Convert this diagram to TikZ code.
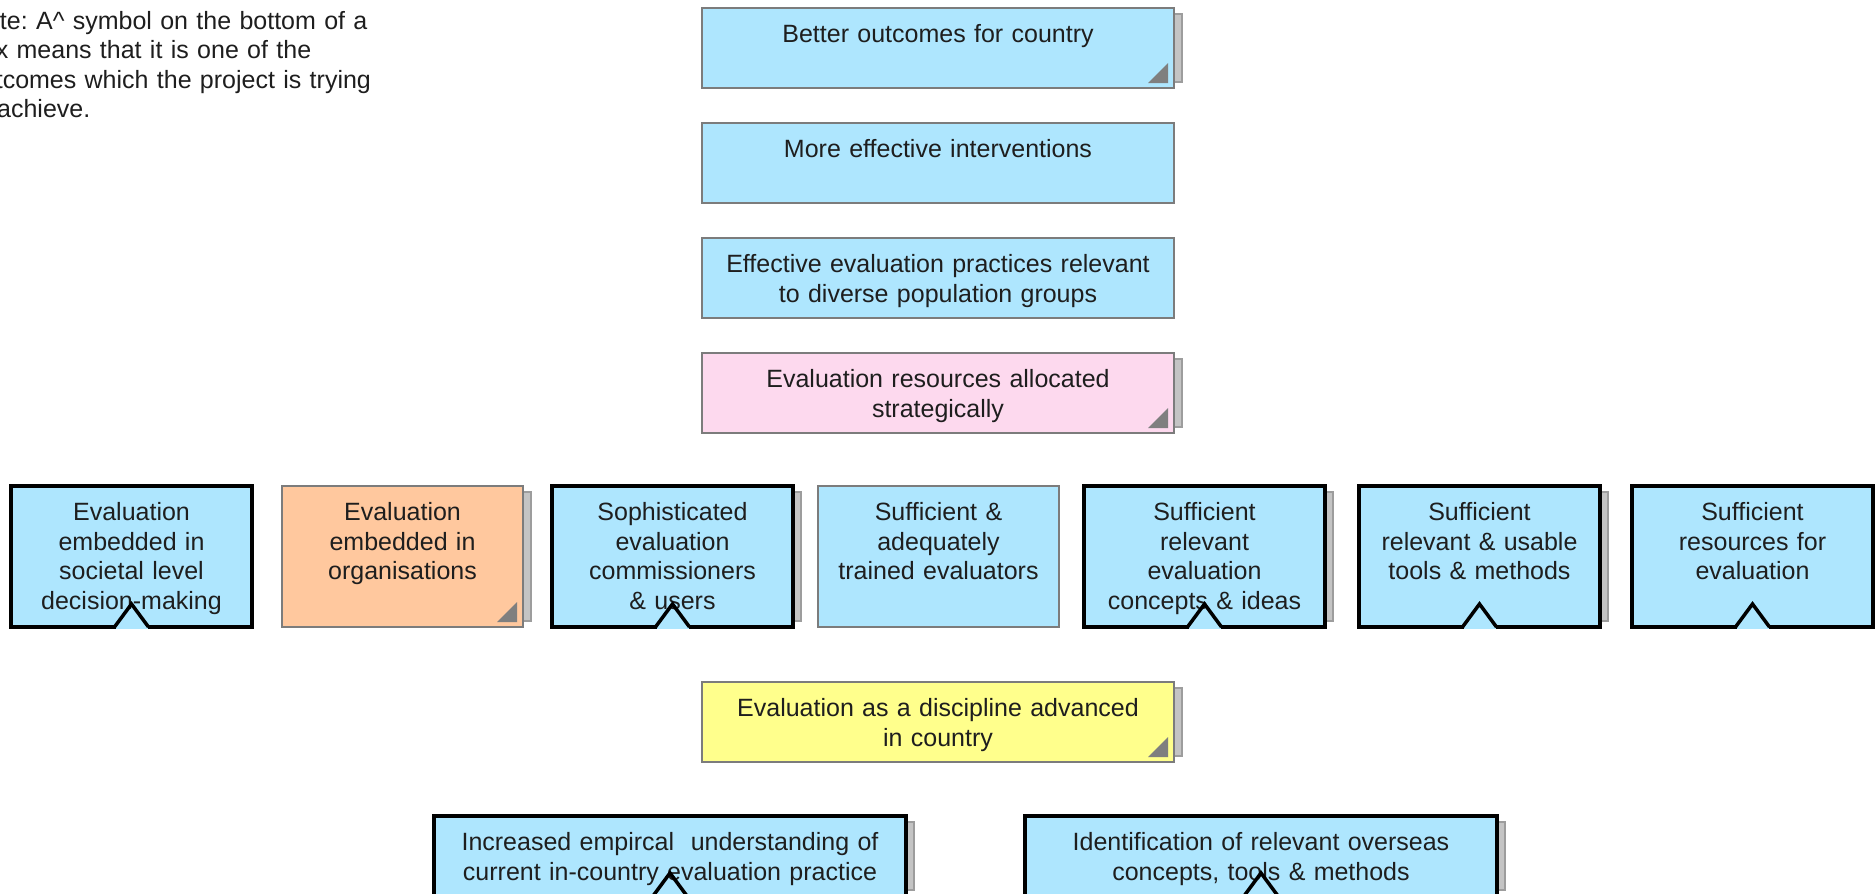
\documentclass[tikz,border=0pt]{standalone}
\usepackage{fontspec}
\setmainfont{Liberation Sans}
\usepackage{xcolor}
\usepackage{tikz}
\usetikzlibrary{calc,positioning,backgrounds}

\definecolor{dvBlue}{HTML}{AEE6FE}
\definecolor{dvPink}{HTML}{FDD9EE}
\definecolor{dvOrange}{HTML}{FFC89E}
\definecolor{dvYellow}{HTML}{FFFF8C}
\definecolor{dvEdge}{HTML}{7C7C7C}
\definecolor{dvShadow}{HTML}{C4C4C4}
\definecolor{dvCorner}{HTML}{7F7F7F}
\definecolor{dvText}{HTML}{1E1E1E}

\begin{document}
\begin{tikzpicture}[x=0.5pt, y=0.5pt, node distance=17.5pt]
  % one unit = one pixel of the 1876x894 layout, y goes down as negative
  \tikzset{
    outcomeBox/.style={draw=dvEdge, line width=1pt, fill=dvBlue, outer sep=0pt, inner xsep=4pt, inner ysep=0pt, text width=228pt, align=center, text=dvText, text height=17.3pt, text depth=22.7pt, font=\fontsize{12.5}{14.75}\selectfont},
    stepBox/.style={outcomeBox, text width=112.5pt, text depth=53.2pt},
    targetBox/.style={draw=black, line width=1.75pt},
    shadowBox/.style={draw=dvShadow!80!black, fill=dvShadow, line width=0.75pt},
    cornerMark/.style={fill=dvCorner},
    noteText/.style={inner sep=0pt, outer sep=0pt, text width=300pt, align=left, text=dvText, font=\fontsize{12.5}{14.75}\selectfont\frenchspacing}
  }

  \useasboundingbox (0,0) rectangle (1876,-894);
  \clip (0,0) rectangle (1876,-894);

  % --- Note (runs off the left edge) ---
  \node[noteText, anchor=base west] (note) at (-32,-29) {Note: A\textasciicircum{} symbol on the bottom of a\\box means that it is one of the\\outcomes which the project is trying\\to achieve.};

  % --- Top column ---
  \node[outcomeBox, anchor=north west] (goal-1) at (702,-8) {Better outcomes for country};
  \node[outcomeBox] (goal-2) [below=of goal-1] {More effective interventions};
  \node[outcomeBox] (goal-3) [below=of goal-2] {Effective evaluation practices relevant\\to diverse population groups};
  \node[outcomeBox, fill=dvPink] (goal-4) [below=of goal-3] {Evaluation resources allocated\\strategically};

  % --- Row of steps ---
  \node[stepBox, targetBox, anchor=north west] (row-1) at (11,-486) {Evaluation\\embedded in\\societal level\\decision-making};
  \node[stepBox, fill=dvOrange, anchor=north west] (row-2) at (282,-486) {Evaluation\\embedded in\\organisations};
  \node[stepBox, targetBox, anchor=north west] (row-3) at (552,-486) {Sophisticated\\evaluation\\commissioners\\\& users};
  \node[stepBox, anchor=north west] (row-4) at (818,-486) {Sufficient \&\\adequately\\trained evaluators};
  \node[stepBox, targetBox, anchor=north west] (row-5) at (1084,-486) {Sufficient\\relevant\\evaluation\\concepts \& ideas};
  \node[stepBox, targetBox, anchor=north west] (row-6) at (1359,-486) {Sufficient\\relevant \& usable\\tools \& methods};
  \node[stepBox, targetBox, anchor=north west] (row-7) at (1632,-486) {Sufficient\\resources for\\evaluation};

  % --- Discipline box and its two bases ---
  \node[outcomeBox, fill=dvYellow, anchor=north west] (disc) at (702,-682) {Evaluation as a discipline advanced\\in country};
  \node[outcomeBox, targetBox, anchor=north west] (base-1) at (434,-816) {Increased empircal\ \ understanding of\\current in-country evaluation practice};
  \node[outcomeBox, targetBox, anchor=north west] (base-2) at (1025,-816) {Identification of relevant overseas\\concepts, tools \& methods};

  % stacked page behind some boxes
  \begin{scope}[on background layer]
    \foreach \n in {goal-1,goal-4,row-2,row-3,row-5,row-6,disc,base-1,base-2}
      \filldraw[shadowBox] ($(\n.north west)+(8,-6)$) rectangle ($(\n.south east)+(8,6)$);
  \end{scope}

  % corner marks
  \foreach \n in {goal-1,goal-4,row-2,disc}
    \fill[cornerMark] ($(\n.south east)+(-6,5)$) -- ++(0,20) -- ++(-20,-20) -- cycle;

  % ^ marks on the target outcomes
  \foreach \n in {row-1,row-3,row-5,row-6,row-7,base-1,base-2} {
    \fill[dvBlue] ($(\n.south)+(-16,-2)$) rectangle ($(\n.south)+(16,2)$);
    \draw[line width=1.75pt] ($(\n.south)+(-17,0)$) -- ($(\n.south)+(0,23)$) -- ($(\n.south)+(17,0)$);
  }

\end{tikzpicture}
\end{document}
